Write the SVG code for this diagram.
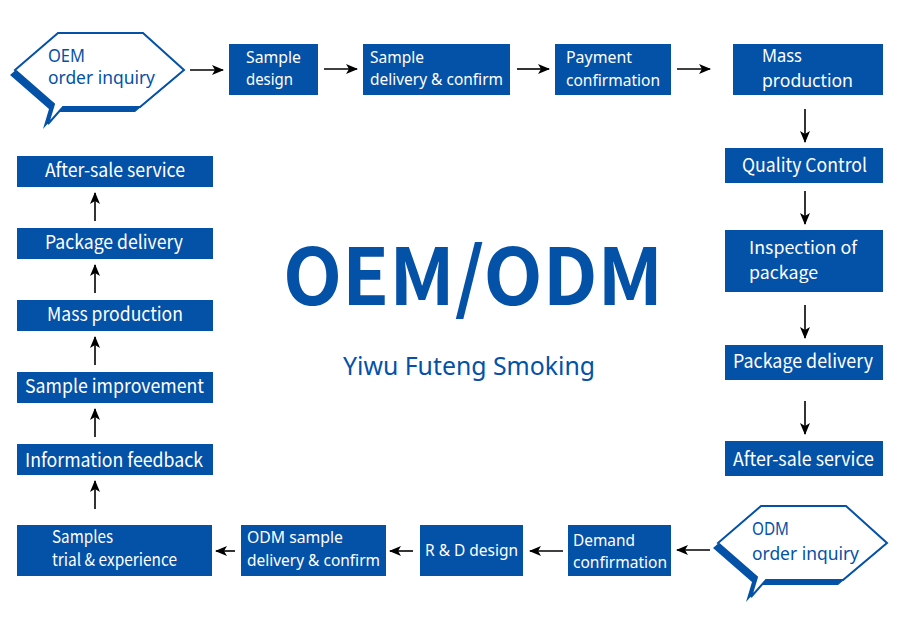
<svg xmlns="http://www.w3.org/2000/svg" width="900" height="639" viewBox="0 0 900 639">
<defs>
<marker id="ah" markerUnits="userSpaceOnUse" markerWidth="12" markerHeight="10" viewBox="0 0 12 10" refX="11" refY="5" orient="auto">
<path d="M0,0 L12,5 L0,10 L3,5 Z" fill="#000"/>
</marker>
<path id="bub" d="M58,33 L143,33 L184,70 L140,107 L63,107 L48,124 L54,104 L15,70 Z"/>
</defs>
<style>
.box{fill:#0451A8}
.t{fill:#fff;font-family:"Noto Sans","Open Sans",sans-serif;font-size:16px}
.c{fill:#fff;font-family:"Noto Sans CJK SC","Noto Sans",sans-serif;font-size:19px}
.bt{fill:#0451A8;font-family:"Noto Sans","Open Sans",sans-serif;font-size:18px}
.ln{stroke:#000;stroke-width:1.6;fill:none;marker-end:url(#ah)}
.shadow{fill:#0451A8}
.bubble{fill:#fff;stroke:#0451A8;stroke-width:2}
</style>
<rect width="900" height="639" fill="#fff"/>

<g id="oem-inquiry">
<use href="#bub" class="shadow" transform="translate(-5,5)"/>
<use href="#bub" class="bubble"/>
<text class="bt"><tspan x="48" y="62" textLength="37" lengthAdjust="spacingAndGlyphs">OEM</tspan><tspan x="48" y="84" textLength="107" lengthAdjust="spacingAndGlyphs">order inquiry</tspan></text>
</g>
<g id="sample-design">
<rect class="box" x="229" y="44" width="89" height="51"/>
<text class="t"><tspan x="246" y="63" textLength="55" lengthAdjust="spacingAndGlyphs">Sample</tspan><tspan x="246" y="85" textLength="47" lengthAdjust="spacingAndGlyphs">design</tspan></text>
</g>
<g id="sample-delivery">
<rect class="box" x="363" y="44" width="147" height="51"/>
<text class="t"><tspan x="370" y="63" textLength="54" lengthAdjust="spacingAndGlyphs">Sample</tspan><tspan x="370" y="85" textLength="133" lengthAdjust="spacingAndGlyphs">delivery &amp; confirm</tspan></text>
</g>
<g id="payment">
<rect class="box" x="555" y="44" width="116" height="51"/>
<text class="t"><tspan x="566" y="63" textLength="66" lengthAdjust="spacingAndGlyphs">Payment</tspan><tspan x="566" y="86" textLength="94" lengthAdjust="spacingAndGlyphs">confirmation</tspan></text>
</g>
<g id="mass-production-r">
<rect class="box" x="733" y="44" width="150" height="51"/>
<text class="t" style="font-size:18px"><tspan x="762" y="62" textLength="40" lengthAdjust="spacingAndGlyphs">Mass</tspan><tspan x="762" y="87" textLength="91" lengthAdjust="spacingAndGlyphs">production</tspan></text>
</g>
<g id="quality-control">
<rect class="box" x="725" y="148" width="158" height="35"/>
<text class="c" x="742" y="172" textLength="125" lengthAdjust="spacingAndGlyphs">Quality Control</text>
</g>
<g id="inspection">
<rect class="box" x="725" y="230" width="158" height="62"/>
<text class="c" style="font-size:17px"><tspan x="749" y="254" textLength="108" lengthAdjust="spacingAndGlyphs">Inspection of</tspan><tspan x="749" y="279" textLength="69" lengthAdjust="spacingAndGlyphs">package</tspan></text>
</g>
<g id="package-delivery-r">
<rect class="box" x="725" y="345" width="158" height="35"/>
<text class="c" x="733" y="368" textLength="140" lengthAdjust="spacingAndGlyphs">Package delivery</text>
</g>
<g id="after-sale-r">
<rect class="box" x="725" y="441" width="158" height="35"/>
<text class="c" x="733" y="466" textLength="141" lengthAdjust="spacingAndGlyphs">After-sale service</text>
</g>
<g id="odm-inquiry" transform="translate(703,473)">
<use href="#bub" class="shadow" transform="translate(-5,5)"/>
<use href="#bub" class="bubble"/>
<text class="bt"><tspan x="49" y="62" textLength="37" lengthAdjust="spacingAndGlyphs">ODM</tspan><tspan x="49" y="87" textLength="107" lengthAdjust="spacingAndGlyphs">order inquiry</tspan></text>
</g>
<g id="demand">
<rect class="box" x="568" y="525" width="103" height="51"/>
<text class="t"><tspan x="573" y="546" textLength="62" lengthAdjust="spacingAndGlyphs">Demand</tspan><tspan x="573" y="568" textLength="94" lengthAdjust="spacingAndGlyphs">confirmation</tspan></text>
</g>
<g id="rd-design">
<rect class="box" x="420" y="525" width="103" height="51"/>
<text class="t" style="font-size:17px" x="425" y="556" textLength="93" lengthAdjust="spacingAndGlyphs">R &amp; D design</text>
</g>
<g id="odm-sample">
<rect class="box" x="241" y="525" width="145" height="51"/>
<text class="t"><tspan x="247" y="543" textLength="96" lengthAdjust="spacingAndGlyphs">ODM sample</tspan><tspan x="247" y="566" textLength="133" lengthAdjust="spacingAndGlyphs">delivery &amp; confirm</tspan></text>
</g>
<g id="samples-trial">
<rect class="box" x="17" y="525" width="195" height="51"/>
<text class="c" style="font-size:17px"><tspan x="52" y="543" textLength="61" lengthAdjust="spacingAndGlyphs">Samples</tspan><tspan x="52" y="566" textLength="125" lengthAdjust="spacingAndGlyphs">trial &amp; experience</tspan></text>
</g>
<g id="info-feedback">
<rect class="box" x="17" y="444" width="196" height="31"/>
<text class="c" x="25" y="467" textLength="178" lengthAdjust="spacingAndGlyphs">Information feedback</text>
</g>
<g id="sample-improvement">
<rect class="box" x="17" y="372" width="196" height="31"/>
<text class="c" x="25" y="393" textLength="179" lengthAdjust="spacingAndGlyphs">Sample improvement</text>
</g>
<g id="mass-production-l">
<rect class="box" x="17" y="300" width="196" height="31"/>
<text class="c" x="47" y="321" textLength="136" lengthAdjust="spacingAndGlyphs">Mass production</text>
</g>
<g id="package-delivery-l">
<rect class="box" x="17" y="228" width="196" height="31"/>
<text class="c" x="45" y="249" textLength="138" lengthAdjust="spacingAndGlyphs">Package delivery</text>
</g>
<g id="after-sale-l">
<rect class="box" x="17" y="156" width="196" height="31"/>
<text class="c" x="45" y="177" textLength="140" lengthAdjust="spacingAndGlyphs">After-sale service</text>
</g>

<g id="title">
<text x="283" y="305" textLength="380" lengthAdjust="spacingAndGlyphs" style="fill:#0451A8;font-family:'Noto Sans CJK SC','Noto Sans',sans-serif;font-weight:bold;font-size:78px">OEM/ODM</text>
<text x="343" y="375" textLength="252" lengthAdjust="spacingAndGlyphs" style="fill:#0451A8;font-family:'Noto Sans','Open Sans',sans-serif;font-size:25px">Yiwu Futeng Smoking</text>
</g>

<g id="connectors">
<line class="ln" x1="190" y1="70" x2="223" y2="70"/>
<line class="ln" x1="324" y1="69" x2="357" y2="69"/>
<line class="ln" x1="517" y1="69" x2="549" y2="69"/>
<line class="ln" x1="677" y1="69" x2="710" y2="69"/>
<line class="ln" x1="805" y1="109" x2="805" y2="142"/>
<line class="ln" x1="805" y1="191" x2="805" y2="224"/>
<line class="ln" x1="805" y1="305" x2="805" y2="338"/>
<line class="ln" x1="805" y1="401" x2="805" y2="434"/>
<line class="ln" x1="710" y1="550" x2="677" y2="550"/>
<line class="ln" x1="563" y1="551" x2="530" y2="551"/>
<line class="ln" x1="413" y1="551" x2="390" y2="551"/>
<line class="ln" x1="235" y1="551" x2="216" y2="551"/>
<line class="ln" x1="95" y1="509" x2="95" y2="481"/>
<line class="ln" x1="95" y1="437" x2="95" y2="409"/>
<line class="ln" x1="95" y1="365" x2="95" y2="337"/>
<line class="ln" x1="95" y1="293" x2="95" y2="265"/>
<line class="ln" x1="95" y1="221" x2="95" y2="193"/>
</g>
</svg>
